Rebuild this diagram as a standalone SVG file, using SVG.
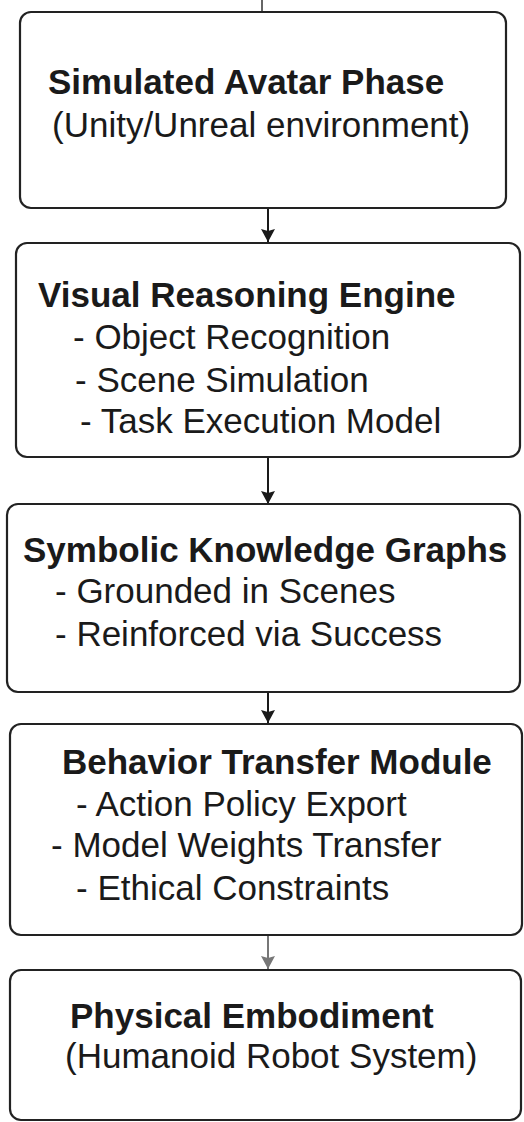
<svg xmlns="http://www.w3.org/2000/svg" width="524" height="1122" viewBox="0 0 524 1122">
  <style>
    .box { fill: #ffffff; stroke: #222222; stroke-width: 2.2; }
    .t { font-family: "Liberation Sans", Arial, sans-serif; font-size: 35px; fill: #1a1a1a; }
    .b { font-weight: bold; }
    .conn { stroke: #1a1a1a; stroke-width: 2; fill: none; }
  </style>
  <defs>
    <marker id="ah" markerUnits="userSpaceOnUse" markerWidth="14" markerHeight="16" refX="13" refY="8" orient="auto" viewBox="0 0 14 16">
      <path d="M0,1 L13,8 L0,15 L2,8 Z" fill="#1a1a1a"/>
    </marker>
    <marker id="ahg" markerUnits="userSpaceOnUse" markerWidth="14" markerHeight="16" refX="13" refY="8" orient="auto" viewBox="0 0 14 16">
      <path d="M0,1 L13,8 L0,15 L2,8 Z" fill="#777777"/>
    </marker>
  </defs>
  <rect width="524" height="1122" fill="#ffffff"/>

  <g id="connectors">
    <line class="conn" x1="262" y1="0" x2="262" y2="12" style="stroke:#666666"/>
    <path class="conn" d="M268,209 L268,242" marker-end="url(#ah)"/>
    <path class="conn" d="M268,458 L268,504" marker-end="url(#ah)"/>
    <path class="conn" d="M268,693 L268,723" marker-end="url(#ah)"/>
    <path class="conn" d="M268,936 L268,969" style="stroke:#777777" marker-end="url(#ahg)"/>
  </g>

  <g id="node1">
    <rect class="box" x="20" y="12" width="486" height="196" rx="11"/>
    <text class="t b" x="48" y="94">Simulated Avatar Phase</text>
    <text class="t" x="52" y="137">(Unity/Unreal environment)</text>
  </g>

  <g id="node2">
    <rect class="box" x="16" y="243" width="504" height="214" rx="11"/>
    <text class="t b" x="38" y="307">Visual Reasoning Engine</text>
    <text class="t" x="73" y="349">- Object Recognition</text>
    <text class="t" x="75" y="392">- Scene Simulation</text>
    <text class="t" x="80" y="433">- Task Execution Model</text>
  </g>

  <g id="node3">
    <rect class="box" x="7" y="504" width="513" height="188" rx="11"/>
    <text class="t b" x="23" y="562">Symbolic Knowledge Graphs</text>
    <text class="t" x="55" y="603">- Grounded in Scenes</text>
    <text class="t" x="55" y="646">- Reinforced via Success</text>
  </g>

  <g id="node4">
    <rect class="box" x="10" y="724" width="512" height="211" rx="11"/>
    <text class="t b" x="62" y="774">Behavior Transfer Module</text>
    <text class="t" x="76" y="816">- Action Policy Export</text>
    <text class="t" x="51" y="857">- Model Weights Transfer</text>
    <text class="t" x="76" y="900">- Ethical Constraints</text>
  </g>

  <g id="node5">
    <rect class="box" x="10" y="970" width="511" height="150" rx="11"/>
    <text class="t b" x="70" y="1028">Physical Embodiment</text>
    <text class="t" x="65" y="1068">(Humanoid Robot System)</text>
  </g>
</svg>
